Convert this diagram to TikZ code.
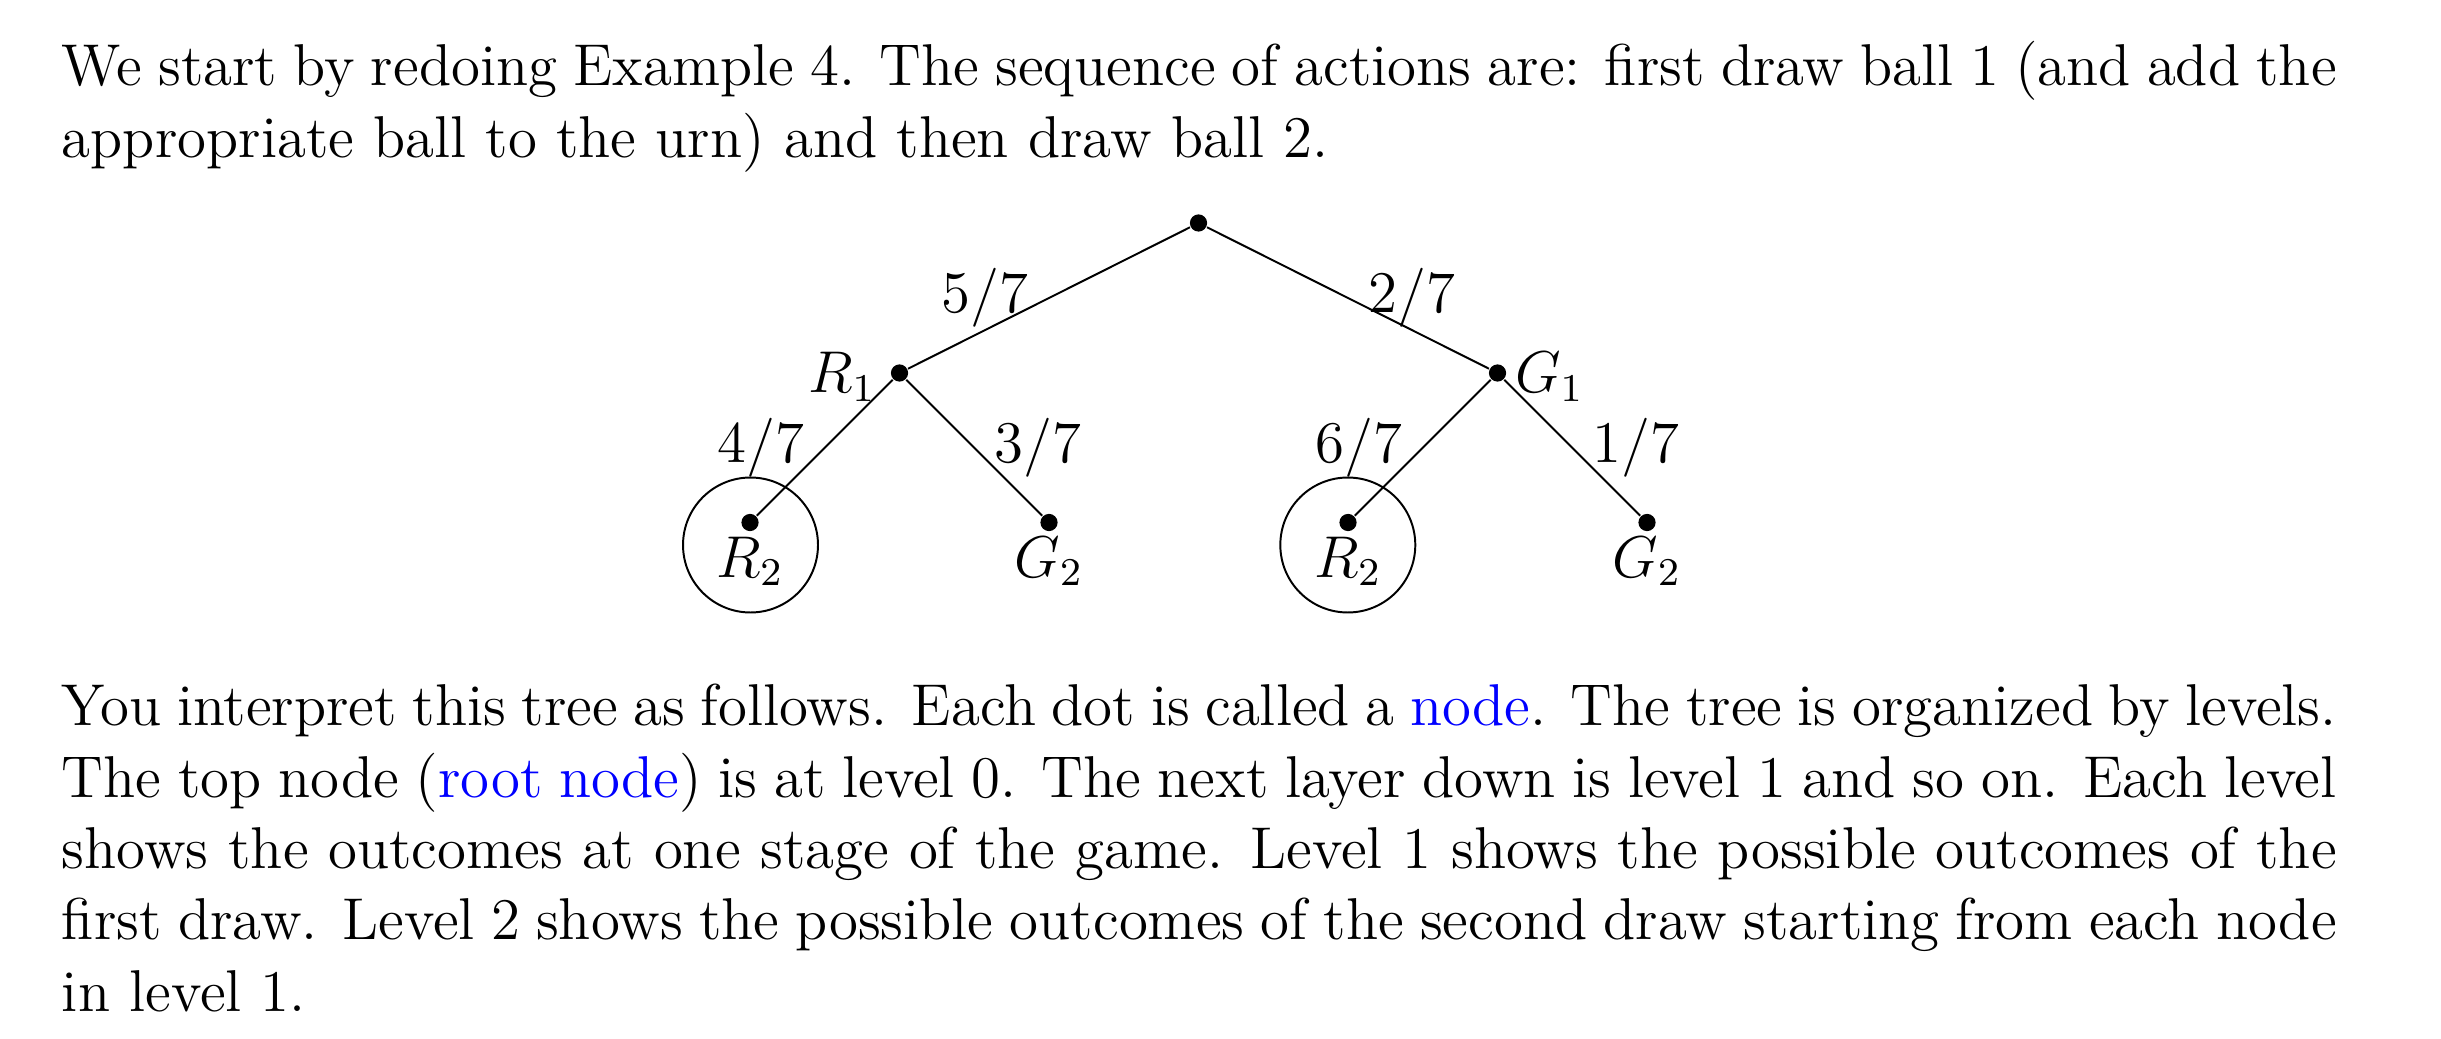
\documentclass[tikz,border=0pt,12pt]{standalone}
\usepackage{xcolor}
\begin{document}
\begin{tikzpicture}[x=0.20337pt,y=-0.20337pt,
  dot/.style={circle,fill=black,inner sep=0pt,minimum size=3.5pt},
  lab/.style={inner sep=0pt},
  ring/.style={draw,circle,inner sep=0pt,minimum size=27.45pt},
  para/.style={anchor=north west,inner sep=0pt,text width=462.6pt,align=justify},
  edge/.style={line width=0.4pt}]
\useasboundingbox (0,0) rectangle (2441,1039);
\node[para] (p1) at (61,35.1) {\noindent\strut We start by redoing Example 4. The sequence of actions are: first draw ball 1 (and add the\linebreak appropriate ball to the urn) and then draw ball 2.};
% tree
\node[dot] (root) at (1198.5,223) {};
\node[dot] (r1) at (899.5,373) {};
\node[dot] (g1) at (1497.5,373) {};
\node[dot] (rr) at (750,522.5) {};
\node[dot] (rg) at (1049,522.5) {};
\node[dot] (gr) at (1348,522.5) {};
\node[dot] (gg) at (1647,522.5) {};
\draw[edge] (root) -- node[midway,left]{$5/7$} (r1);
\draw[edge] (root) -- node[midway,right]{$2/7$} (g1);
\draw[edge] (r1) -- node[midway,left]{$4/7$} (rr);
\draw[edge] (r1) -- node[midway,right]{$3/7$} (rg);
\draw[edge] (g1) -- node[midway,left]{$6/7$} (gr);
\draw[edge] (g1) -- node[midway,right]{$1/7$} (gg);
\node[lab,anchor=base east] (r1l) at (877,393) {$R_1$};
\node[lab,anchor=base west] (g1l) at (1514,393) {$G_1$};
\node[lab,anchor=base] (rrl) at (750,577) {$R_2$};
\node[lab,anchor=base] (rgl) at (1049,577) {$G_2$};
\node[lab,anchor=base] (grl) at (1348,577) {$R_2$};
\node[lab,anchor=base] (ggl) at (1647,577) {$G_2$};
\node[ring] (c1) at (750.5,545) {};
\node[ring] (c2) at (1347.8,545) {};
\node[para] (p2) at (61,675.1) {\noindent\strut You interpret this tree as follows. Each dot is called a \textcolor{blue}{node}. The tree is organized by levels.\linebreak The top node (\textcolor{blue}{root node}) is at level 0. The next layer down is level 1 and so on. Each level\linebreak shows the outcomes at one stage of the game. Level 1 shows the possible outcomes of the\linebreak first draw. Level 2 shows the possible outcomes of the second draw starting from each node\linebreak in level 1.};
\end{tikzpicture}
\end{document}
